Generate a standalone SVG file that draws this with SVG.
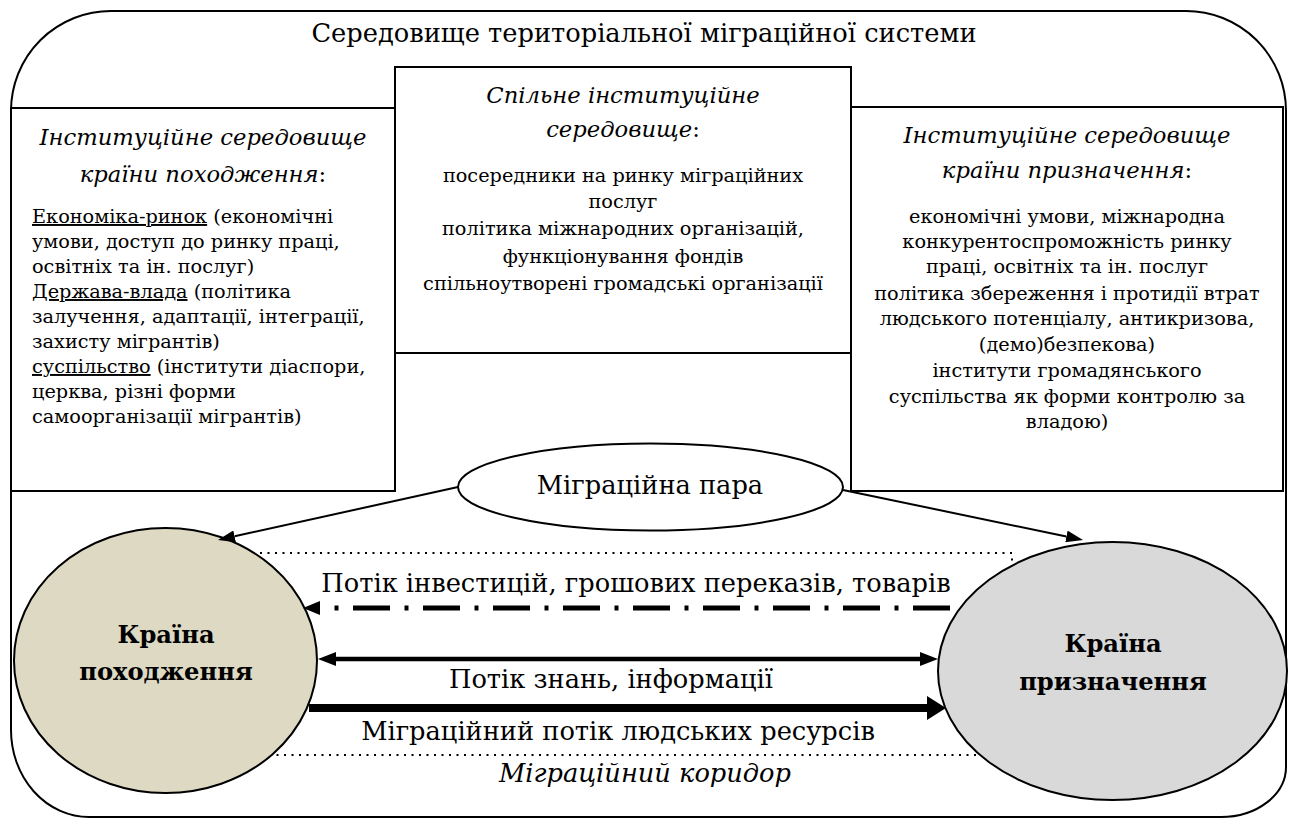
<svg xmlns="http://www.w3.org/2000/svg" width="1293" height="819" viewBox="0 0 1293 819" font-family="DejaVu Serif, serif">
<style>
  .ln { fill: #fff; stroke: #000; stroke-width: 2; }
  .t { fill: #000; }
  .h { font-size: 22.7px; font-style: italic; text-anchor: middle; }
  .b { font-size: 19.3px; }
  .c { text-anchor: middle; }
  .f { font-size: 25.7px; text-anchor: middle; }
  .bold { font-size: 24.2px; font-weight: bold; text-anchor: middle; }
  .u { text-decoration: underline; }
  .n { font-style: normal; }
</style>
<defs>
  <marker id="mThin" markerUnits="userSpaceOnUse" markerWidth="17" markerHeight="12" refX="0" refY="6" orient="auto">
    <path d="M0,0 L17,6 L0,12 z" fill="#000"/>
  </marker>
  <marker id="mDD" markerUnits="userSpaceOnUse" markerWidth="17" markerHeight="14" refX="0" refY="7" orient="auto">
    <path d="M0,0 L17,7 L0,14 z" fill="#000"/>
  </marker>
  <marker id="mMid" markerUnits="userSpaceOnUse" markerWidth="18" markerHeight="14" refX="0" refY="7" orient="auto-start-reverse">
    <path d="M0,0 L18,7 L0,14 z" fill="#000"/>
  </marker>
  <marker id="mBig" markerUnits="userSpaceOnUse" markerWidth="19" markerHeight="24" refX="0" refY="12" orient="auto">
    <path d="M0,0 L19,12 L0,24 z" fill="#000"/>
  </marker>
</defs>
<rect width="1293" height="819" fill="#fff"/>

<g id="environment">
  <path class="ln" d="M111,11 H1186 A100,100 0 0 1 1286,111 V767 A65,50 0 0 1 1221,817 H89 A78,87 0 0 1 11,730 V111 A100,100 0 0 1 111,11 Z"/>
  <text class="t f" x="644" y="42" font-size="26.6">Середовище територіальної міграційної системи</text>
</g>

<g id="origin-institutions">
  <rect class="ln" x="11" y="108" width="384" height="383"/>
  <text class="t h" x="203" y="145">Інституційне середовище</text>
  <text class="t h" x="203" y="182">країни походження<tspan class="n">:</tspan></text>
  <text class="t b" x="32" y="223"><tspan class="u">Економіка-ринок</tspan> (економічні</text>
  <text class="t b" x="32" y="248">умови, доступ до ринку праці,</text>
  <text class="t b" x="32" y="273">освітніх та ін. послуг)</text>
  <text class="t b" x="32" y="298"><tspan class="u">Держава-влада</tspan> (політика</text>
  <text class="t b" x="32" y="323">залучення, адаптації, інтеграції,</text>
  <text class="t b" x="32" y="348">захисту мігрантів)</text>
  <text class="t b" x="32" y="373"><tspan class="u">суспільство</tspan> (інститути діаспори,</text>
  <text class="t b" x="32" y="398">церква, різні форми</text>
  <text class="t b" x="32" y="423">самоорганізації мігрантів)</text>
</g>

<g id="destination-institutions">
  <rect class="ln" x="851" y="107" width="432" height="384"/>
  <text class="t h" x="1067" y="143">Інституційне середовище</text>
  <text class="t h" x="1067" y="178">країни призначення<tspan class="n">:</tspan></text>
  <text class="t b c" x="1067" y="223">економічні умови, міжнародна</text>
  <text class="t b c" x="1067" y="248">конкурентоспроможність ринку</text>
  <text class="t b c" x="1067" y="273">праці, освітніх та ін. послуг</text>
  <text class="t b c" x="1067" y="300">політика збереження і протидії втрат</text>
  <text class="t b c" x="1067" y="325">людського потенціалу, антикризова,</text>
  <text class="t b c" x="1067" y="351">(демо)безпекова)</text>
  <text class="t b c" x="1067" y="377">інститути громадянського</text>
  <text class="t b c" x="1067" y="403">суспільства як форми контролю за</text>
  <text class="t b c" x="1067" y="428">владою)</text>
</g>

<g id="common-institutions">
  <rect class="ln" x="395" y="67" width="456" height="286"/>
  <text class="t h" x="623" y="103">Спільне інституційне</text>
  <text class="t h" x="623" y="137">середовище<tspan class="n">:</tspan></text>
  <text class="t b c" x="623" y="182">посередники на ринку міграційних</text>
  <text class="t b c" x="623" y="208">послуг</text>
  <text class="t b c" x="623" y="235">політика міжнародних організацій,</text>
  <text class="t b c" x="623" y="263">функціонування фондів</text>
  <text class="t b c" x="623" y="290">спільноутворені громадські організації</text>
</g>

<g id="migration-corridor">
  <rect x="200" y="553" width="812" height="202" fill="none" stroke="#000" stroke-width="2" stroke-dasharray="2 5.5"/>
  <text class="t f" x="645" y="782" font-style="italic">Міграційний коридор</text>
</g>

<g id="origin-country">
  <ellipse cx="165.5" cy="660.5" rx="151.5" ry="132.5" fill="#DDD9C3" stroke="#000" stroke-width="2"/>
  <text class="t bold" x="166" y="643">Країна</text>
  <text class="t bold" x="166" y="680">походження</text>
</g>

<g id="destination-country">
  <ellipse cx="1112.5" cy="671" rx="174.5" ry="129" fill="#D9D9D9" stroke="#000" stroke-width="2"/>
  <text class="t bold" x="1113" y="652">Країна</text>
  <text class="t bold" x="1113" y="690">призначення</text>
</g>

<g id="migration-pair">
  <ellipse cx="650.5" cy="487" rx="192.5" ry="43.5" fill="#fff" stroke="#000" stroke-width="2"/>
  <text class="t f" x="650" y="494" font-size="26.4">Міграційна пара</text>
</g>

<g id="connectors" fill="none" stroke="#000">
  <line x1="458" y1="487" x2="234.6" y2="536.3" stroke-width="2" marker-end="url(#mThin)"/>
  <line x1="843" y1="490" x2="1066.4" y2="536.5" stroke-width="2" marker-end="url(#mThin)"/>
  <line x1="950" y1="608" x2="320" y2="608" stroke-width="5" stroke-dasharray="37 14.5 4 14.5" marker-end="url(#mDD)"/>
  <line x1="336" y1="659" x2="920" y2="659" stroke-width="4.5" marker-start="url(#mMid)" marker-end="url(#mMid)"/>
  <line x1="309" y1="708" x2="927" y2="708" stroke-width="8" marker-end="url(#mBig)"/>
  <g stroke="none">
    <text class="t f" x="636" y="592">Потік інвестицій, грошових переказів, товарів</text>
    <text class="t f" x="611" y="688">Потік знань, інформації</text>
    <text class="t f" x="618" y="740">Міграційний потік людських ресурсів</text>
  </g>
</g>
</svg>
